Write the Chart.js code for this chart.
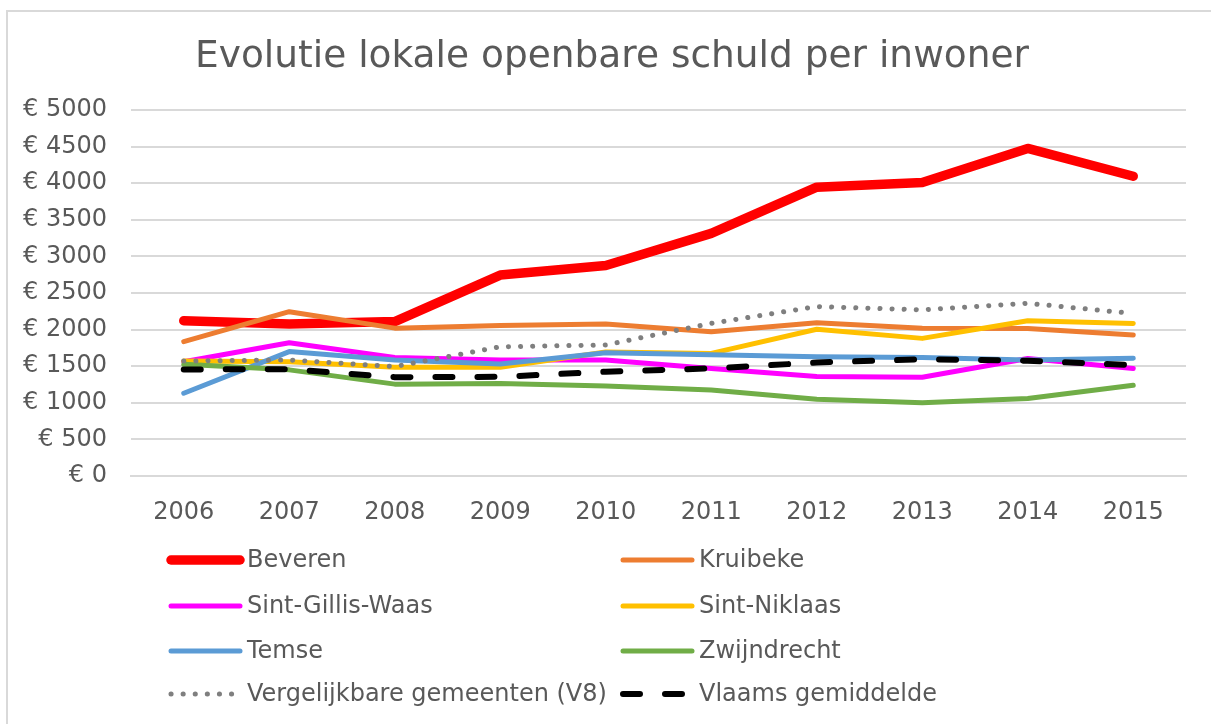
<!DOCTYPE html>
<html>
<head>
<meta charset="utf-8">
<script src="https://cdn.jsdelivr.net/npm/chart.js@4.4.0/dist/chart.umd.min.js"></script>
<style>
  html, body { margin: 0; padding: 0; background: #fff; }
  #wrap { width: 1211px; height: 724px; }
</style>
</head>
<body>
<div id="wrap"><canvas id="schuldChart" width="1211" height="724"></canvas></div>
<script>
// jaren en schuld per inwoner (euro)
const years = ['2006', '2007', '2008', '2009', '2010', '2011', '2012', '2013', '2014', '2015'];
const beveren = [2120, 2075, 2110, 2745, 2875, 3315, 3945, 4010, 4475, 4095];
const kruibeke = [1835, 2245, 2020, 2055, 2075, 1970, 2095, 2020, 2015, 1925];
const sintGillisWaas = [1560, 1820, 1620, 1585, 1585, 1470, 1360, 1350, 1605, 1470];
const sintNiklaas = [1570, 1560, 1485, 1485, 1695, 1675, 2005, 1880, 2120, 2085];
const temse = [1130, 1700, 1585, 1530, 1685, 1655, 1630, 1620, 1585, 1610];
const zwijndrecht = [1525, 1450, 1255, 1265, 1230, 1175, 1050, 1000, 1060, 1240];
const vergelijkbaar = [1570, 1585, 1495, 1765, 1790, 2085, 2315, 2270, 2360, 2220];
const vlaamsGemiddelde = [1455, 1460, 1350, 1355, 1425, 1470, 1550, 1595, 1575, 1515];

const textColor = '#595959';
const gridColor = '#d9d9d9';
const fontFamily = '"DejaVu Sans", Verdana, sans-serif';

const series = [
    { label: 'Beveren', data: beveren, color: '#ff0000', width: 9.5 },
    { label: 'Kruibeke', data: kruibeke, color: '#ed7d31', width: 5 },
    { label: 'Sint-Gillis-Waas', data: sintGillisWaas, color: '#ff00ff', width: 5 },
    { label: 'Sint-Niklaas', data: sintNiklaas, color: '#ffc000', width: 5 },
    { label: 'Temse', data: temse, color: '#5b9bd5', width: 5 },
    { label: 'Zwijndrecht', data: zwijndrecht, color: '#70ad47', width: 5 },
    { label: 'Vergelijkbare gemeenten (V8)', data: vergelijkbaar, color: '#7f7f7f', width: 5, dash: [0.1, 12] },
    { label: 'Vlaams gemiddelde', data: vlaamsGemiddelde, color: '#000000', width: 6, dash: [17, 25] }
];

const datasets = series.map((s, i) => ({
    label: s.label,
    data: s.data,
    borderColor: s.color,
    backgroundColor: s.color,
    borderWidth: s.width,
    borderDash: s.dash || [],
    borderCapStyle: 'round',
    borderJoinStyle: 'round',
    pointRadius: 0,
    tension: 0,
    fill: false,
    yAxisID: 'y',
    order: series.length - i   // laatste reeks bovenaan, zoals in Excel
}));

// kader rond de grafiek
const framePlugin = {
    id: 'frame',
    beforeDraw(chart) {
        const ctx = chart.ctx;
        ctx.save();
        ctx.fillStyle = '#fff';
        ctx.fillRect(0, 0, chart.width, chart.height);
        ctx.strokeStyle = gridColor;
        ctx.lineWidth = 2;
        ctx.strokeRect(7, 11, chart.width + 10, chart.height + 10);
        ctx.restore();
    }
};

// legende in twee kolommen onder de grafiek
const legendPlugin = {
    id: 'gridLegend',
    afterDraw(chart) {
        const ctx = chart.ctx;
        const cols = [168, 620];
        const rows = [560, 606, 651, 694];
        ctx.save();
        ctx.font = '24px ' + fontFamily;
        ctx.textBaseline = 'middle';
        ctx.fillStyle = textColor;
        series.forEach((s, i) => {
            const x = cols[i % 2];
            const y = rows[Math.floor(i / 2)];
            ctx.strokeStyle = s.color;
            ctx.lineWidth = s.width;
            ctx.lineCap = 'round';
            ctx.setLineDash(s.dash || []);
            ctx.beginPath();
            ctx.moveTo(x + 3, y);
            ctx.lineTo(x + (s.dash && s.dash[0] < 1 ? 66 : 72), y);
            ctx.stroke();
            ctx.setLineDash([]);
            ctx.fillText(s.label, x + 79, y + 1);
        });
        ctx.restore();
    }
};

new Chart(document.getElementById('schuldChart').getContext('2d'), {
    type: 'line',
    data: { labels: years, datasets: datasets },
    options: {
        responsive: false,
        animation: false,
        layout: { padding: { left: 13, right: 0, top: 0, bottom: 198 } },
        plugins: {
            legend: { display: false },
            tooltip: { enabled: false },
            title: {
                display: true,
                text: 'Evolutie lokale openbare schuld per inwoner',
                color: textColor,
                font: { family: fontFamily, size: 37.5, weight: 'normal' },
                padding: { top: 35, bottom: 30 }
            }
        },
        scales: {
            x: {
                offset: true,
                grid: { display: false, drawTicks: false },
                border: { display: true, color: gridColor, width: 2 },
                ticks: { color: textColor, font: { family: fontFamily, size: 24 }, padding: 22, maxRotation: 0 },
                afterFit(scale) { scale.height = 50; }
            },
            y: {
                min: 0,
                max: 5000,
                grid: { color: gridColor, lineWidth: 2, drawTicks: false },
                border: { display: false },
                ticks: {
                    stepSize: 500,
                    color: textColor,
                    font: { family: fontFamily, size: 24 },
                    padding: 24,
                    callback: v => '€ ' + v
                },
                afterFit(scale) { scale.width = 118; }
            },
            // lege as rechts, alleen voor de witruimte naast het plotvlak
            rechts: {
                position: 'right',
                min: 0,
                max: 5000,
                grid: { display: false, drawTicks: false },
                border: { display: false },
                ticks: { display: false },
                afterFit(scale) { scale.width = 25; }
            }
        }
    },
    plugins: [framePlugin, legendPlugin]
});
</script>
</body>
</html>
